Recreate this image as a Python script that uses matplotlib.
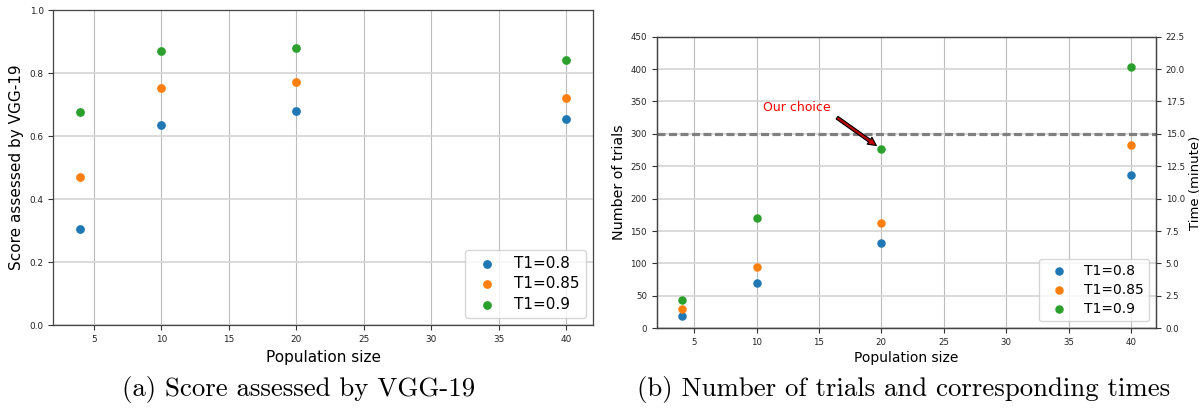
import matplotlib
matplotlib.use("Agg")
import matplotlib.pyplot as plt
import numpy as np

# ---- data ----
population = [4, 10, 20, 40]
labels = ["T1=0.8", "T1=0.85", "T1=0.9"]
colors = ["#1f77b4", "#ff7f0e", "#2ca02c"]

score_t08 = [0.307, 0.635, 0.681, 0.654]
score_t085 = [0.469, 0.754, 0.773, 0.720]
score_t09 = [0.675, 0.871, 0.878, 0.841]

trials_t08 = [19, 70, 132, 236]
trials_t085 = [29, 94, 163, 283]
trials_t09 = [43, 170, 276, 403]

budget_line = 300
trials_ticks = [0, 50, 100, 150, 200, 250, 300, 350, 400, 450]
time_ticks = [0.0, 2.5, 5.0, 7.5, 10.0, 12.5, 15.0, 17.5, 20.0, 22.5]
score_ticks = [0.0, 0.2, 0.4, 0.6, 0.8, 1.0]
x_ticks = [5, 10, 15, 20, 25, 30, 35, 40]

fig = plt.figure(figsize=(12.02, 4.12), dpi=100)

def style_grid(ax):
    ax.set_axisbelow(True)
    ax.xaxis.grid(True, color="#bdbdbd", linewidth=0.8)
    ax.yaxis.grid(True, color="#d4d4d4", linewidth=1.2)
    for s in ax.spines.values():
        s.set_color("#444444")
        s.set_linewidth(0.9)

# ---- left panel ----
ax1 = fig.add_axes([0.0444, 0.2104, 0.4492, 0.7653])
for vals, lab, c in zip([score_t08, score_t085, score_t09], labels, colors):
    ax1.scatter(population, vals, s=28, color=c, label=lab, zorder=3)
ax1.set_xlim(2, 42)
ax1.set_ylim(0, 1.0)
ax1.set_xticks(x_ticks)
ax1.set_yticks(score_ticks)
ax1.tick_params(labelsize=6.4, colors="#333333", labelcolor="#222222")
ax1.set_xlabel("Population size", fontsize=11, labelpad=4)
ax1.set_ylabel("Score assessed by VGG-19", fontsize=11, labelpad=4)
style_grid(ax1)
ax1.legend(loc="lower right", fontsize=11, labelspacing=0.35)

# ---- right panel ----
ax2 = fig.add_axes([0.5463, 0.2032, 0.4154, 0.7078])
for vals, lab, c in zip([trials_t08, trials_t085, trials_t09], labels, colors):
    ax2.scatter(population, vals, s=26, color=c, label=lab, zorder=3)
ax2.axhline(budget_line, color="gray", linestyle=(0, (2.5, 1.1)), linewidth=2.3, zorder=2)
ax2.set_xlim(2, 42)
ax2.set_ylim(0, 450)
ax2.set_xticks(x_ticks)
ax2.set_yticks(trials_ticks)
ax2.tick_params(labelsize=6.2, colors="#333333", labelcolor="#222222")
ax2.set_xlabel("Population size", fontsize=10, labelpad=3)
ax2.set_ylabel("Number of trials", fontsize=10.3, labelpad=3)
style_grid(ax2)
ax2.text(10.55, 341, "Our choice", color="red", fontsize=9, va="center", ha="left")
ax2.annotate("", xy=(19.6, 282), xytext=(16.45, 325),
             arrowprops=dict(facecolor="#c00000", edgecolor="black", width=2.3,
                             headwidth=6, headlength=6, linewidth=0.8))
ax2.legend(loc="lower right", fontsize=10, labelspacing=0.35)

ax3 = ax2.twinx()
ax3.set_ylim(0, 22.5)
ax3.set_yticks(time_ticks)
ax3.tick_params(labelsize=6.2, colors="#333333", labelcolor="#222222")
ax3.set_ylabel("Time (minute)", fontsize=9.5, labelpad=3)
for s in ax3.spines.values():
    s.set_color("#444444")
    s.set_linewidth(0.9)

# ---- captions ----
fig.text(0.248, 0.055, "(a) Score assessed by VGG-19", fontsize=19.3,
         family="cmr10", ha="center", va="center")
fig.text(0.7515, 0.055, "(b) Number of trials and corresponding times", fontsize=19.3,
         family="cmr10", ha="center", va="center")

fig.savefig("out.png", dpi=100)
